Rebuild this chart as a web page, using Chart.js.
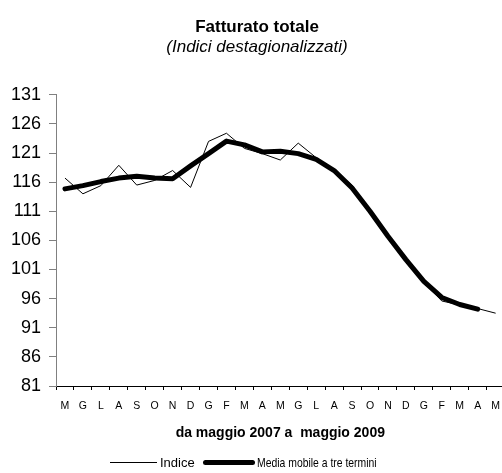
<!DOCTYPE html>
<html><head><meta charset="utf-8">
<script src="https://cdn.jsdelivr.net/npm/chart.js@4/dist/chart.umd.min.js"></script>
<style>
html,body{margin:0;padding:0;background:#fff;overflow:hidden;width:502px;height:473px;}
#wrap{position:relative;width:510px;height:473px;}
canvas{display:block}
.leg{position:absolute;font-family:"Liberation Sans",Arial,sans-serif;font-size:13px;color:#000;line-height:13px;white-space:nowrap;}
</style></head><body>
<div id="wrap"><canvas id="c" width="510" height="473"></canvas>
<div class="leg" style="left:110px;top:462px;width:47px;height:1px;background:#000"></div>
<div class="leg" style="left:160px;top:456px">Indice</div>
<div class="leg" style="left:203px;top:460px;width:52px;height:5px;border-radius:3px;background:#000"></div>
<div class="leg" style="left:257px;top:456px;transform:scaleX(0.8);transform-origin:0 50%">Media mobile a tre termini</div>
</div>
<script>
const categories = ['M','G','L','A','S','O','N','D','G','F','M','A','M','G','L','A','S','O','N','D','G','F','M','A','M'];
const indice = [116.7,114.0,115.4,118.9,115.5,116.3,118.0,115.1,123.0,124.4,121.8,120.9,119.8,122.7,120.2,118.1,115.5,111.0,106.6,102.6,98.8,95.6,94.9,94.3,93.5];
const mediaMobile = [114.85,115.4,116.1,116.7,117.0,116.7,116.6,118.8,120.9,123.05,122.4,121.2,121.3,120.9,119.9,118.0,115.0,111.0,106.7,102.7,98.95,96.2,95.0,94.2,null];
const yMin = 81, yMax = 131, yStep = 5;

Chart.defaults.font.family = '"Liberation Sans", Arial, sans-serif';
Chart.defaults.color = '#000';

new Chart(document.getElementById('c'), {
  type: 'line',
  data: {
    labels: categories,
    datasets: [
      { label: 'Indice', data: indice, borderColor: '#000', borderWidth: 1, pointRadius: 0, tension: 0, fill: false, order: 1 },
      { label: 'Media mobile a tre termini', data: mediaMobile, borderColor: '#000', borderWidth: 5, pointRadius: 0, tension: 0, fill: false, borderJoinStyle: 'round', borderCapStyle: 'round', order: 0 }
    ]
  },
  options: {
    responsive: false,
    animation: false,
    layout: { padding: { left: 4, right: 0, top: 0, bottom: 27 } },
    plugins: {
      legend: { display: false },
      tooltip: { enabled: false },
      title: { display: true, text: 'Fatturato totale', color: '#000', font: { size: 17, weight: 'bold' }, padding: { top: 17, bottom: 0 } },
      subtitle: { display: true, text: '(Indici destagionalizzati)', color: '#000', font: { size: 17, style: 'italic' }, padding: { top: 0, bottom: 37 } }
    },
    scales: {
      x: {
        offset: true,
        grid: { offset: true, drawOnChartArea: false, drawTicks: true, tickLength: 4, color: '#000' },
        border: { color: '#000', width: 1 },
        ticks: { font: { size: 10.5 }, color: '#000', padding: 10, autoSkip: false, maxRotation: 0 },
        title: { display: true, text: 'da maggio 2007 a  maggio 2009', color: '#000', font: { size: 14, weight: 'bold' }, padding: { top: 0, bottom: 4 } },
        afterFit: s => { s.height = 60; }
      },
      y: {
        min: yMin, max: yMax,
        ticks: { stepSize: yStep, font: { size: 18 }, color: '#000', padding: 8 },
        grid: { drawOnChartArea: false, drawTicks: true, tickLength: 7, color: '#808080' },
        border: { color: '#808080', width: 1 },
        afterFit: s => { s.width = 52; }
      }
    }
  }
});
</script>
</body></html>
